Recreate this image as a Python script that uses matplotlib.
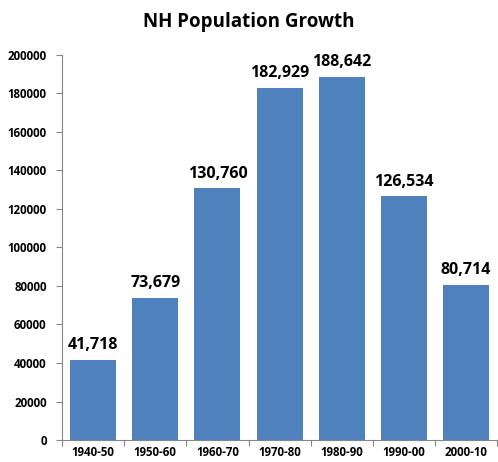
import matplotlib.pyplot as plt

# data
periods = ["1940-50", "1950-60", "1960-70", "1970-80", "1980-90", "1990-00", "2000-10"]
growth = [41718, 73679, 130760, 182929, 188642, 126534, 80714]
yticks = list(range(0, 200001, 20000))

plt.rcParams['font.family'] = ['Open Sans', 'DejaVu Sans']

fig = plt.figure(figsize=(4.98, 4.62), dpi=100)
ax = fig.add_axes([0.1245, 0.0476, 0.874, 0.8334])

x = range(len(periods))
bars = ax.bar(x, growth, width=0.74, color="#4F81BD", zorder=2)
for xi, v in zip(x, growth):
    ax.text(xi, v + 3500, f"{v:,}", ha="center", va="bottom",
            fontsize=11.5, fontweight="bold")

ax.set_xlim(-0.5, len(periods) - 0.5)
ax.set_ylim(0, 200000)
ax.set_yticks(yticks)
ax.set_yticklabels([str(t) for t in yticks], fontsize=8.3, fontweight="bold")

# ticks between categories, labels at centres
ax.set_xticks([i - 0.5 for i in range(len(periods) + 1)])
ax.set_xticklabels([])
ax.set_xticks(list(x), minor=True)
ax.set_xticklabels(periods, minor=True, fontsize=8.3, fontweight="bold")
ax.tick_params(axis="x", which="minor", length=0, pad=4)
ax.tick_params(axis="x", which="major", length=4, color="#868686", direction="out")
ax.tick_params(axis="y", length=4, color="#868686", direction="out", pad=7)

for s in ["top", "right"]:
    ax.spines[s].set_visible(False)
for s in ["left", "bottom"]:
    ax.spines[s].set_color("#868686")

fig.suptitle("NH Population Growth", fontsize=13.5, fontweight="bold", y=0.975)
fig.savefig("out.png", dpi=100)
